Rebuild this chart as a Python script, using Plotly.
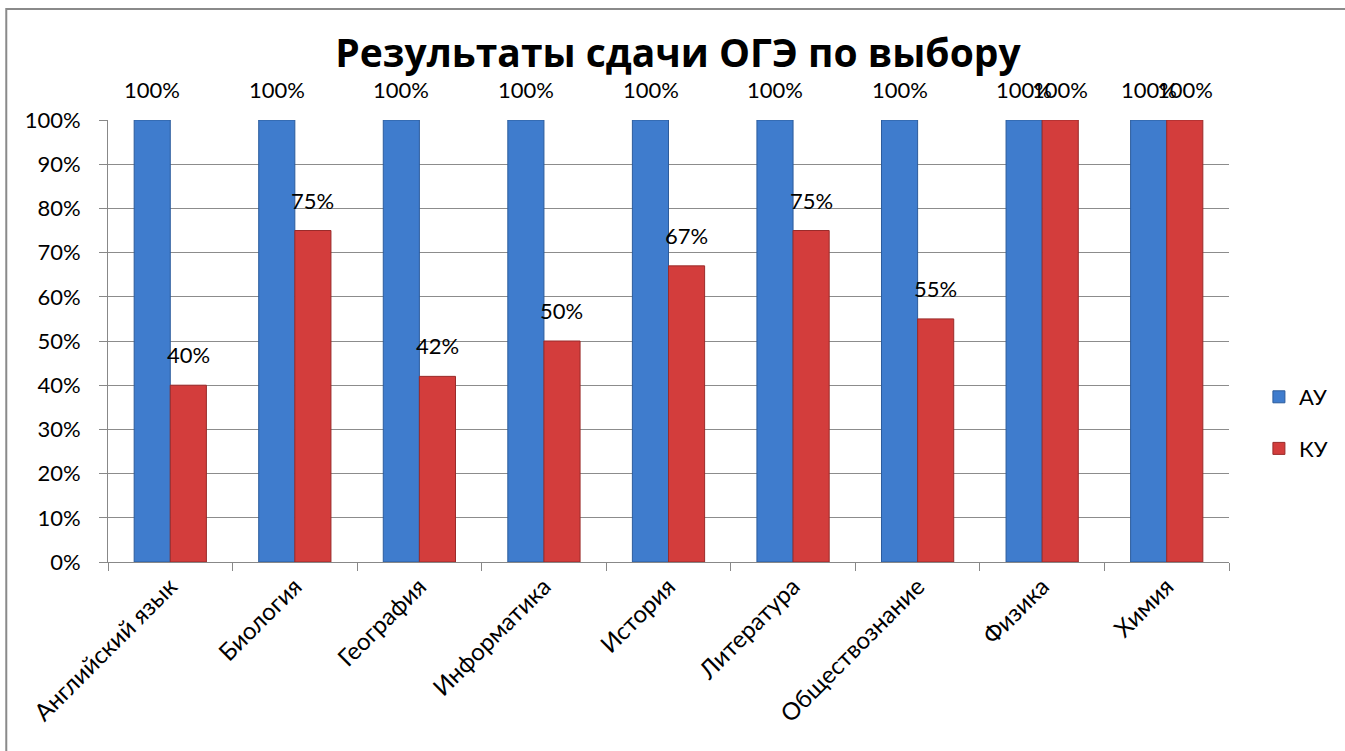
import plotly.graph_objects as go

categories = ["Английский язык", "Биология", "География", "Информатика", "История",
              "Литература", "Обществознание", "Физика", "Химия"]
au_values = [100, 100, 100, 100, 100, 100, 100, 100, 100]
ku_values = [40, 75, 42, 50, 67, 75, 55, 100, 100]
y_ticks = [0, 10, 20, 30, 40, 50, 60, 70, 80, 90, 100]
y_tick_labels = [f"{v}%" for v in y_ticks]

FONT = "Lato, 'Open Sans', sans-serif"
TITLE_FONT = "'Open Sans', Lato, sans-serif"

series = [
    ("АУ", au_values, "#3f7ccd", "#2c5c9c", "a"),
    ("КУ", ku_values, "#d33d3c", "#9a2b2a", "b"),
]

fig = go.Figure()
for name, vals, color, edge, grp in series:
    fig.add_trace(go.Bar(
        name=name, x=categories, y=vals,
        marker=dict(color=color, line=dict(color=edge, width=1)),
        legendgroup=grp,
    ))

L, R, T, B = 108, 113, 120, 189
W, H = 1345, 751
pw, ph = W - L - R, H - T - B

# data labels (placed above each bar, through the axis scales)
half_bar_px = 18
for i, (name, vals, color, edge, grp) in enumerate(series):
    shift = -half_bar_px if i == 0 else half_bar_px
    for cat, v in zip(categories, vals):
        fig.add_annotation(x=cat, y=v, xref="x", yref="y", text=f"{v}%",
                           showarrow=False, xshift=shift, yshift=15,
                           xanchor="center", yanchor="bottom",
                           font=dict(size=22, color="black", family=FONT))

fig.update_layout(
    width=W, height=H,
    margin=dict(l=L, r=R, t=T, b=B),
    paper_bgcolor="white", plot_bgcolor="white",
    font=dict(family=FONT, size=22, color="black"),
    barmode="group", bargap=0.42, bargroupgap=0,
    title=dict(text="<b>Результаты сдачи ОГЭ по выбору</b>", x=678 / W, xanchor="center",
               y=1 - 53 / H, yanchor="middle", font=dict(size=39, family=TITLE_FONT)),
    showlegend=True,
    legend=dict(x=(1262 - L) / pw, y=(562 - 423) / ph, xanchor="left", yanchor="middle",
                font=dict(size=22), tracegroupgap=20, bgcolor="rgba(0,0,0,0)"),
    xaxis=dict(
        type="category", tickangle=-45, tickson="boundaries",
        ticks="outside", ticklen=8, tickcolor="#888888",
        showline=True, linecolor="#888888", linewidth=1,
        showgrid=False, tickfont=dict(size=24),
    ),
    yaxis=dict(
        range=[0, 100], tickvals=y_ticks, ticktext=y_tick_labels,
        ticks="outside", ticklen=8, tickcolor="#888888",
        showline=True, linecolor="#888888", linewidth=1,
        showgrid=True, gridcolor="#8c8c8c", gridwidth=1,
        tickfont=dict(size=22), zeroline=False, ticklabelstandoff=14,
    ),
)

fig.add_shape(type="rect", xref="paper", yref="paper",
              x0=(6 - L) / pw, x1=(1380 - L) / pw,
              y0=(562 - 800) / ph, y1=(562 - 9) / ph,
              line=dict(color="#8a8a8a", width=2), fillcolor="rgba(0,0,0,0)", layer="below")

fig.write_html("out.html", config={"displayModeBar": False},
               post_script="document.body.style.margin='0px';")
